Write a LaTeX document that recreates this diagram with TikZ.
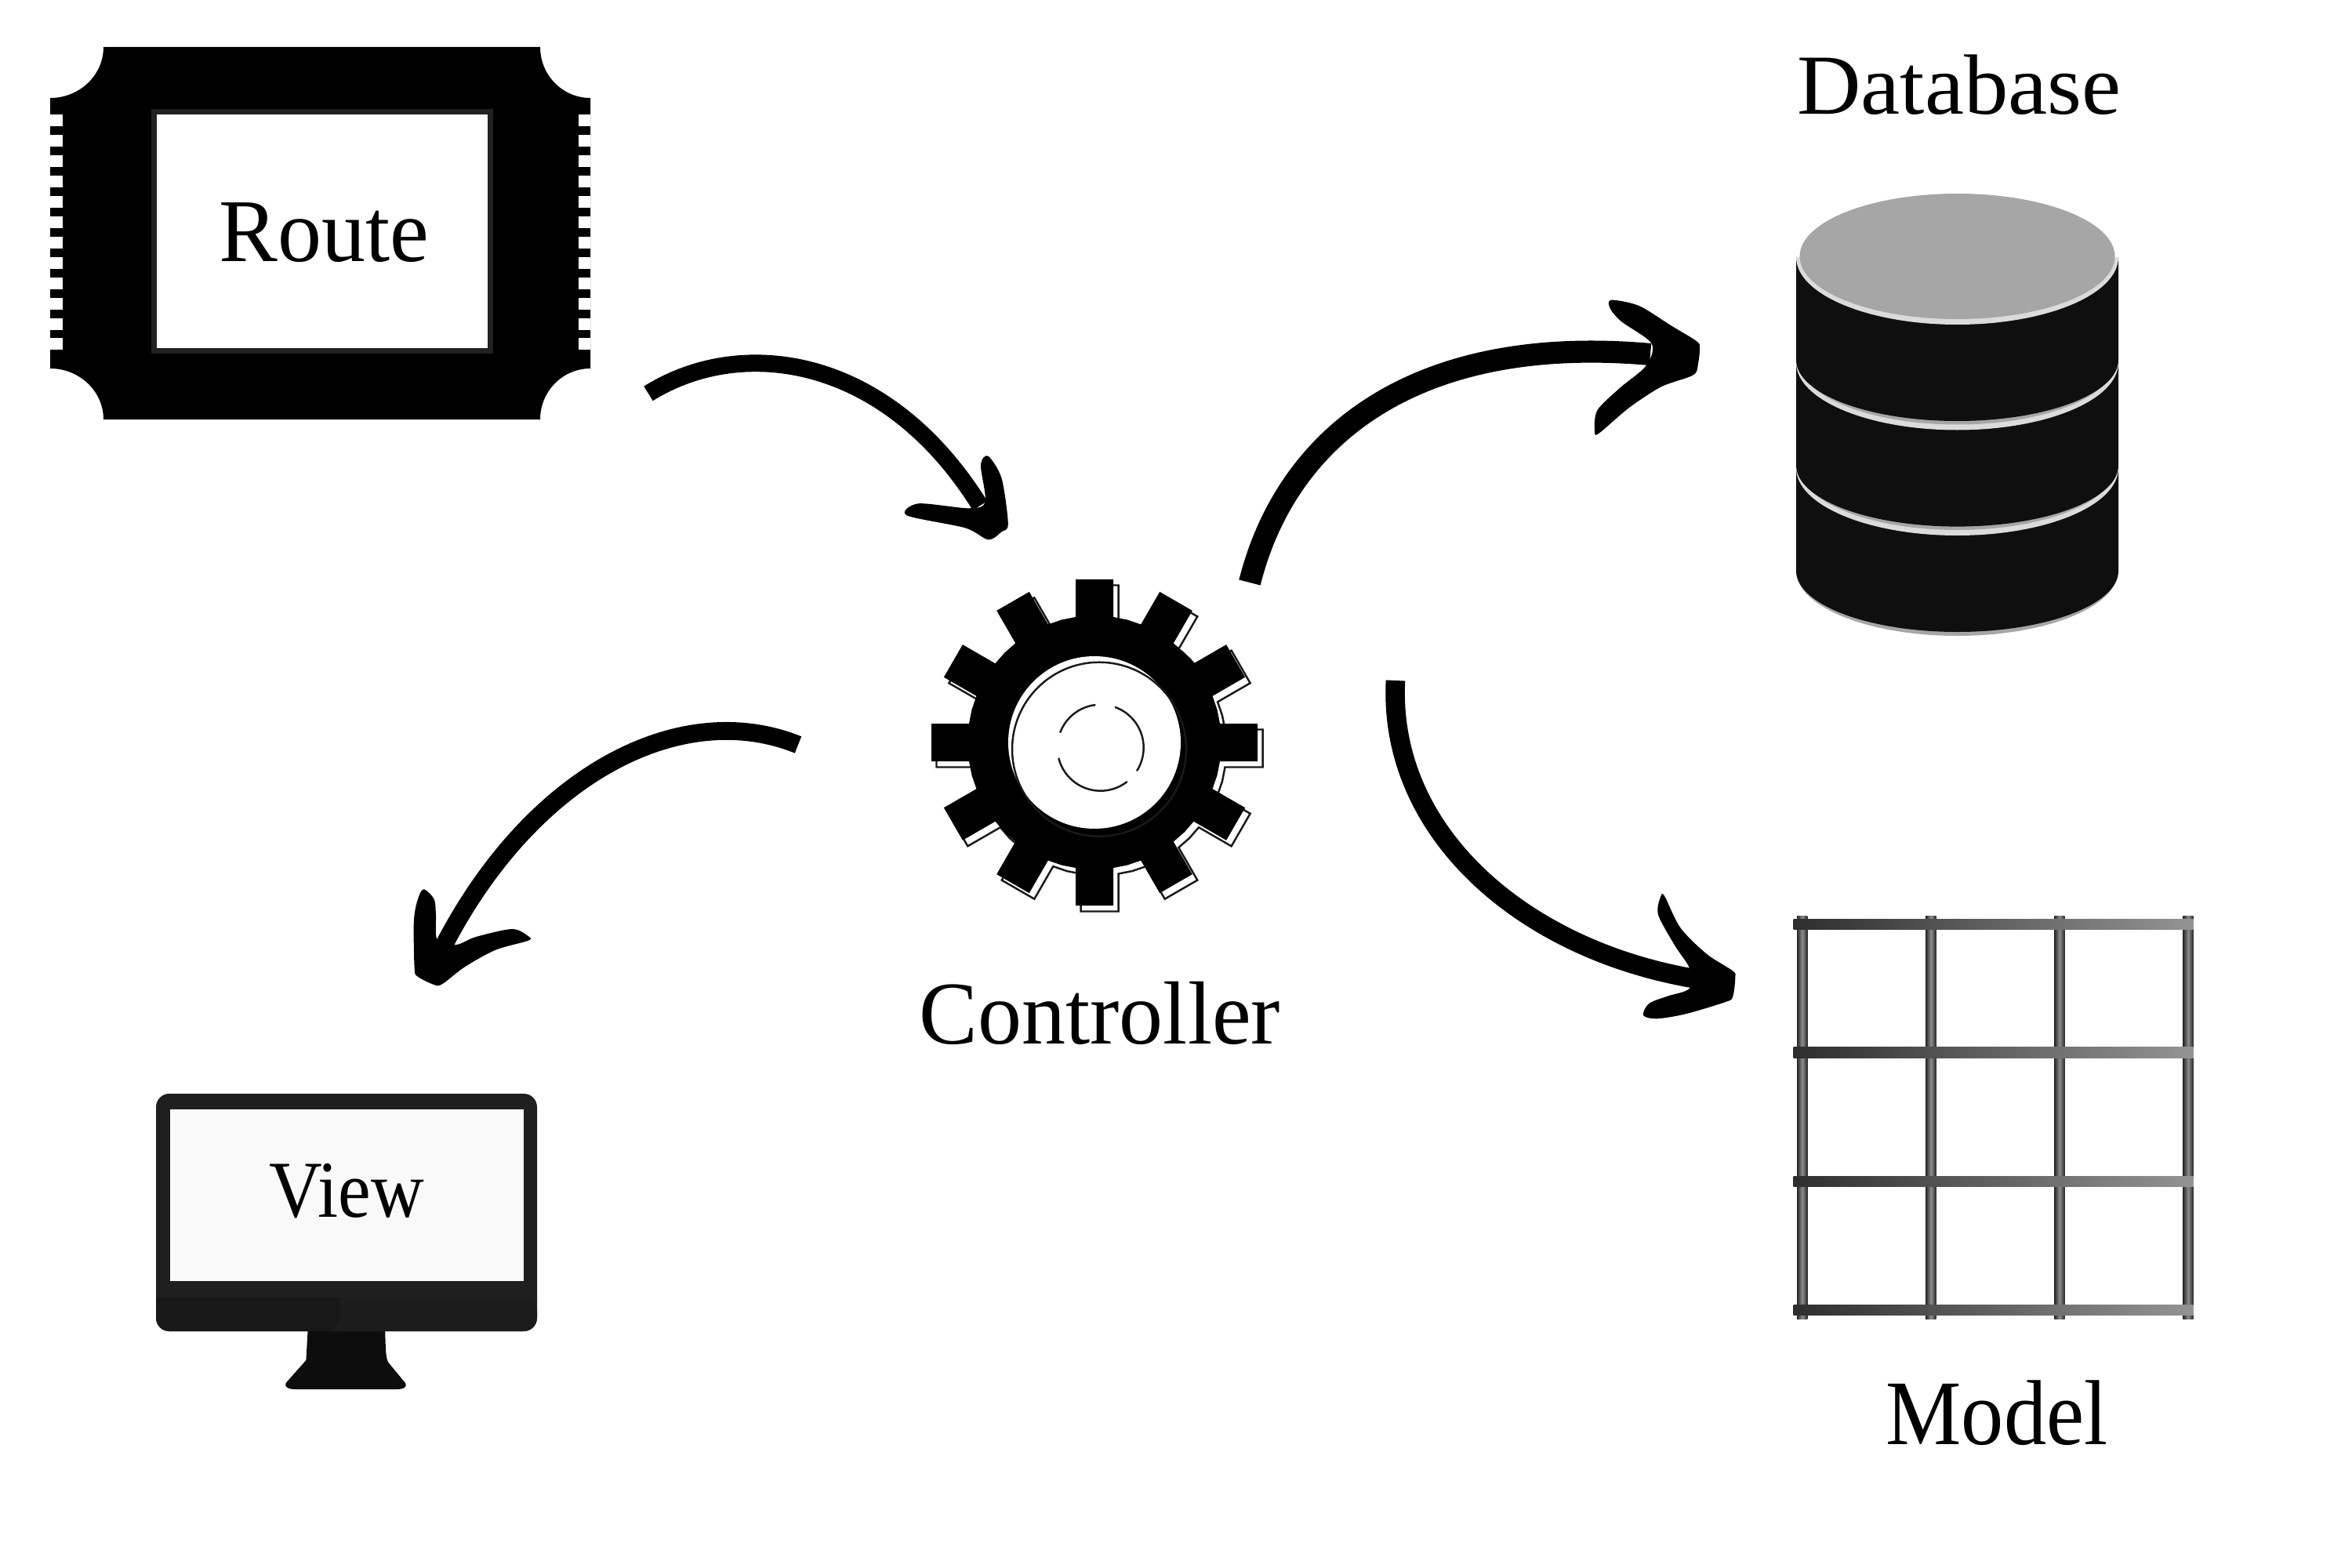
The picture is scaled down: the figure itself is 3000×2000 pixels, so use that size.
\documentclass[tikz,border=0pt]{standalone}
\usepackage{graphicx}
\usepackage{fontspec}
\setmainfont{Liberation Serif}
\usetikzlibrary{calc}
\def\chipgap#1{\fill[white] (64,#1) rectangle (80,#1+15); \fill[white] (738,#1) rectangle (753,#1+15);}
\def\gt#1{-- ([rotate=#1]160,24) -- ([rotate=#1]208,24) -- ([rotate=#1]208,-24) -- ([rotate=#1]160,-24) -- ([rotate=#1+15]162,0)}
\def\gearteeth{\gt{0} \gt{30} \gt{60} \gt{90} \gt{120} \gt{150} \gt{180} \gt{210} \gt{240} \gt{270} \gt{300} \gt{330}}
\def\dbdisc#1{\fill[color=black!14] (2291,#1) arc (180:0:205.5 and 86) -- cycle; \fill[color=black!35] (2496.5,#1-1) ellipse (201 and 80);}
\def\dbband#1#2{\fill[color=black!94] (2291,#1) -- (2291,#2) arc (180:0:205.5 and 78) -- (2702,#1) -- cycle;}
\def\brushhead#1{\fill[black] plot[smooth cycle,tension=0.5] coordinates {#1};}
\tikzset{
	brushline/.style={draw=black,line join=round},
	label/.style={anchor=base,inner sep=0pt,font=\fontsize{32.5}{36}\selectfont},
	vbar/.style={left color=black!85,right color=black!85,middle color=black!45},
	hbar/.style={left color=black!82,right color=black!42}
}

\begin{document}
\begin{tikzpicture}[x=0.01cm,y=-0.01cm]
	%%%%% START %%%%%
	\useasboundingbox[fill=white] (0,0) rectangle (3000,2000);

	% route chip
	\fill[black] (132,60) -- (689,60) arc (180:90:64 and 65) -- (753,470) arc (270:180:64 and 65) -- (132,535) arc (0:-90:68 and 65) -- (64,125) arc (90:0:68 and 65) -- cycle;
	\chipgap{146} \chipgap{172} \chipgap{198} \chipgap{224}
	\chipgap{250} \chipgap{276} \chipgap{302} \chipgap{328}
	\chipgap{354} \chipgap{380} \chipgap{406} \chipgap{431}
	\draw[fill=white,draw=black!87,line width=2pt] (196.5,142.5) rectangle (625.5,447.5);
	\node[label] (route) at (413.5,333) {\scalebox{0.98}[1]{Route}};

	% controller gear
	\draw[line width=0.7pt,color=black!90,shift={(1402.5,954.5)}] ([rotate=-15]162,0) \gearteeth -- cycle;
	\fill[black,shift={(1396,947)}] ([rotate=-15]162,0) \gearteeth -- cycle;
	\fill[white] (1396,947) circle (110);
	\draw[line width=0.7pt,color=black!90] (1402,955.7) circle (111);
	\draw[line width=0.7pt,color=black!90,line cap=round] (1403.7,953.7) ++(262.5:55) arc (262.5:201:55);
	\draw[line width=0.7pt,color=black!90,line cap=round] (1403.7,953.7) ++(-69.7:55) arc (-69.7:32:55);
	\draw[line width=0.7pt,color=black!90,line cap=round] (1403.7,953.7) ++(52.4:55) arc (52.4:165.4:55);
	\node[label] (controller) at (1403,1331) {\scalebox{0.98}[1]{Controller}};

	% database
	\node[label,font=\fontsize{31}{36}\selectfont] (database) at (2499,146) {\scalebox{1.035}[1]{Database}};
	\fill[color=black!35] (2291,600) -- (2291,728) arc (180:0:205.5 and 83) -- (2702,600) -- cycle;
	\dbband{597}{728}
	\dbdisc{597}
	\dbband{462.5}{593.6}
	\dbdisc{462.5}
	\dbband{328}{459}
	\dbdisc{328}

	% model grid
	\shade[vbar] (2292,1168) rectangle (2305.4,1682);
	\shade[vbar] (2456.2,1168) rectangle (2469.6,1682);
	\shade[vbar] (2620.3,1168) rectangle (2633.7,1682);
	\shade[vbar] (2784.3,1168) rectangle (2797.7,1682);
	\shade[hbar] (2287.5,1172) rectangle (2797.7,1185.4);
	\shade[hbar] (2287.5,1335.7) rectangle (2797.7,1349.1);
	\shade[hbar] (2287.5,1500.3) rectangle (2797.7,1513.7);
	\shade[hbar] (2287.5,1664.3) rectangle (2797.7,1677.7);
	\node[label,font=\fontsize{33.5}{36}\selectfont] (model) at (2547,1842) {\scalebox{0.92}[1]{Model}};

	% view monitor
	\fill[color=black!95] (393,1690) -- (390.4,1735) -- (364.6,1764) .. controls (362,1769) and (368,1772) .. (376.6,1772) -- (506,1772) .. controls (515,1772) and (520,1769) .. (517,1764) -- (495.5,1738) .. controls (492,1732) and (492,1725) .. (491,1690) -- cycle;
	\fill[color=black!88,rounded corners=1.7mm] (199,1395) rectangle (685,1698);
	\fill[color=black!90.5] (199,1655) [rounded corners=1.7mm] -- (199,1698) -- (434.5,1698) [sharp corners] -- (434.5,1655) -- cycle;
	\fill[color=black!89] (434.5,1655) -- (434.5,1698) [rounded corners=1.7mm] -- (685,1698) -- (685,1655) [sharp corners] -- cycle;
	\fill[color=black!2.5] (217,1414.5) rectangle (668,1634);
	\node[label,font=\fontsize{29.3}{36}\selectfont] (view) at (442,1552.5) {\scalebox{0.91}[1]{View}};

	% arrow ends
	\coordinate (routeout) at (827,502);
	\coordinate (ctrlin) at (1250,645);
	\coordinate (dbout) at (1594,743);
	\coordinate (dbin) at (2105,452);
	\coordinate (viewout) at (1018,950);
	\coordinate (viewin) at (565,1208);
	\coordinate (modelout) at (1780,868);
	\coordinate (modelin) at (2160,1248);

	\draw[brushline,line width=6.2pt] (routeout) .. controls (945,428) and (1130,452) .. (ctrlin);
	\brushhead{(1260.3,581.7) (1277.5,610) (1285.8,668.3) (1277.5,678.3) (1260.3,688.3) (1231,673.3) (1156.5,657.3) (1171.4,642.3) (1236,648.3) (1256.6,640) (1251,593.3)}

	\draw[brushline,line width=8pt] (dbout) .. controls (1640,560) and (1800,425) .. (dbin);
	\brushhead{(2055,382.7) (2090.4,390) (2131,415) (2163.8,435) (2168,443.3) (2166,463.3) (2159.8,478.3) (2119,493.3) (2078,520) (2039.4,552.7) (2034,550) (2037.4,523.3) (2066,495) (2099.4,466.7) (2106.7,438.3) (2068,410) (2053.7,393.3)}

	\draw[brushline,line width=6.5pt] (viewout) .. controls (870,890) and (680,985) .. (viewin);
	\brushhead{(540,1134.3) (553.6,1146.7) (556,1166.7) (557.8,1199) (582,1205) (607,1195) (653.5,1185) (675,1195) (673,1200) (632,1211.7) (592.8,1233.3) (564.3,1255) (553.6,1256) (532,1245) (528.6,1233.3) (527.8,1176.7) (532,1150)}

	\draw[brushline,line width=7pt] (modelout) .. controls (1770,1060) and (1940,1210) .. (modelin);
	\brushhead{(2118.3,1143.3) (2123.3,1143.3) (2143.3,1183.3) (2176.7,1216.7) (2210,1238.3) (2213.3,1246.7) (2210,1271.7) (2200,1278.3) (2150,1293.3) (2113.3,1299.3) (2096,1295) (2103.3,1280) (2126.7,1270.7) (2155,1260.7) (2155,1235) (2136.7,1206.7) (2115,1166.7)}
	%%%%% END %%%%%
\end{tikzpicture}
\end{document}
